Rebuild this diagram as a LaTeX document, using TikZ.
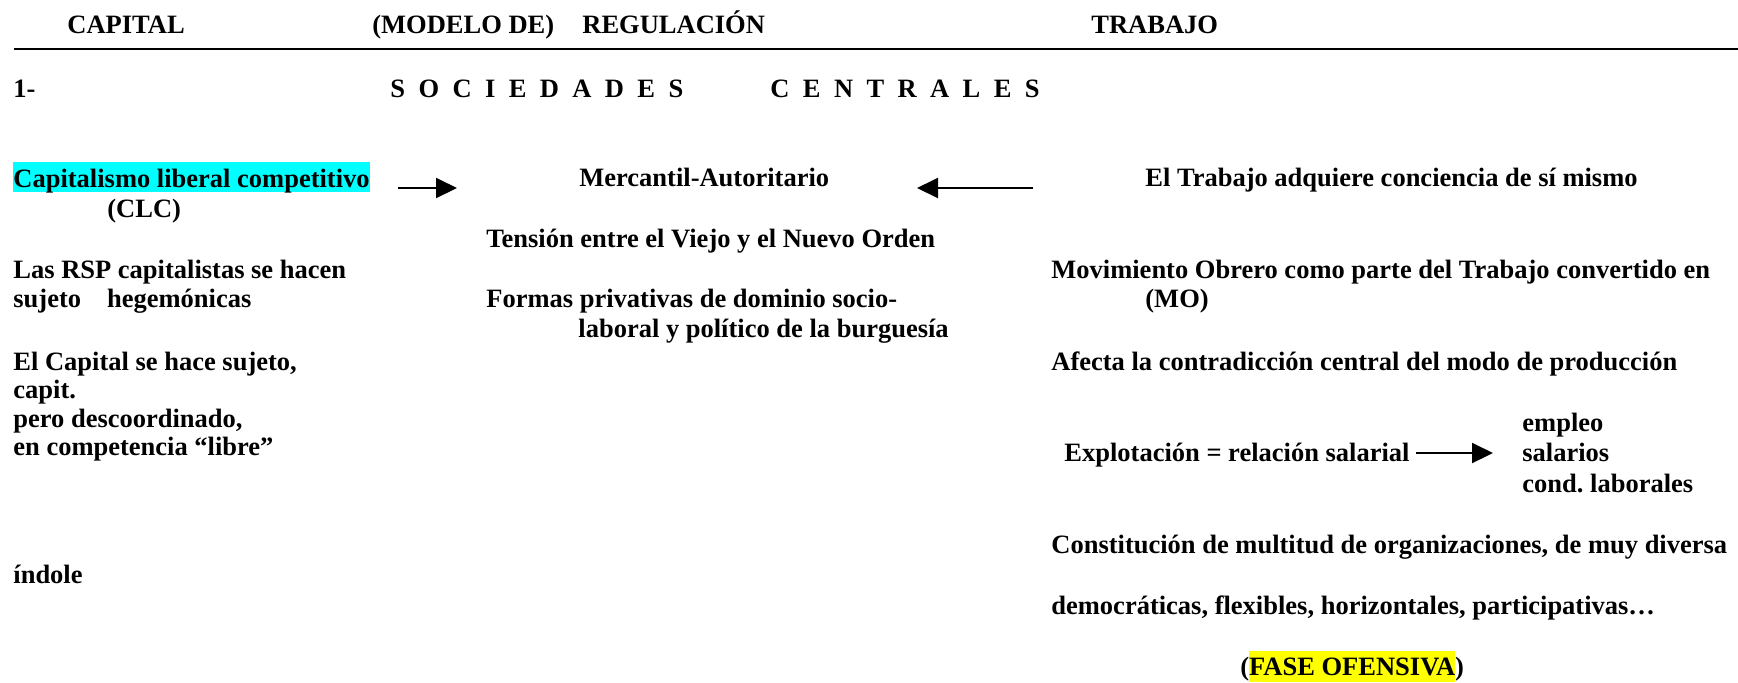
\documentclass[tikz,border=0pt]{standalone}
\usepackage{fontspec}
\setmainfont{Liberation Serif}
\usetikzlibrary{arrows.meta}
\definecolor{celeste}{RGB}{0,255,255}
\definecolor{amarillo}{RGB}{255,255,0}

\newcommand\hueco{\hspace{6.7pt}}
\newcommand\resalte[1]{{\setlength{\fboxsep}{0pt}\colorbox{amarillo}{\rule[-3.5pt]{0pt}{15.5pt}#1}}}

\begin{document}
\frenchspacing
\begin{tikzpicture}[x=0.5pt,y=-0.5pt,
    txt/.style={anchor=base west,inner sep=0pt,font=\fontsize{13.25pt}{16pt}\selectfont\bfseries},
    flecha/.style={line width=1pt,-{Triangle[length=10.5pt,width=10pt]}}]
    \useasboundingbox (0,0) rectangle (1738,682);

    % encabezado
    \node[txt] (capital) at (67,33) {CAPITAL};
    \node[txt] (modelo) at (372,33) {(MODELO DE)};
    \node[txt] (regulacion) at (582,33) {REGULACIÓN};
    \node[txt] (trabajo) at (1091,33) {TRABAJO};
    \draw[line width=1.1pt] (14,49) -- (1738,49);

    \node[txt] (uno) at (13,97) {1-};
    \node[txt] (sociedades) at (390,97) {S\hueco O\hueco C\hueco I\hueco E\hueco D\hueco A\hueco D\hueco E\hueco S};
    \node[txt] (centrales) at (770,97) {C\hueco E\hueco N\hueco T\hueco R\hueco A\hueco L\hueco E\hueco S};

    % capital
    \node[txt,fill=celeste,text height=12.5pt,text depth=2.5pt] (clc) at (13,187) {Capitalismo liberal competitivo}; %CLC
    \node[txt] (siglaclc) at (107,217) {(CLC)};
    \node[txt] (rsp) at (13,278) {Las RSP capitalistas se hacen};
    \node[txt] (sujeto) at (13,307) {sujeto\hspace{13pt}hegemónicas};
    \node[txt] (elcapital) at (13,370) {El Capital se hace sujeto,};
    \node[txt] (capit) at (13,398) {capit.};
    \node[txt] (pero) at (13,427) {pero descoordinado,};
    \node[txt] (libre) at (13,455) {en competencia “libre”};
    \node[txt] (indole) at (13,583) {índole};

    % regulacion
    \node[txt] (mercantil) at (579,186) {Mercantil-Autoritario};
    \node[txt] (tension) at (486,247) {Tensión entre el Viejo y el Nuevo Orden};
    \node[txt] (formas) at (486,307) {Formas privativas de dominio socio-};
    \node[txt] (laboral) at (578,337) {laboral y político de la burguesía};

    % trabajo
    \node[txt] (conciencia) at (1145,186) {El Trabajo adquiere conciencia de sí mismo};
    \node[txt] (movimiento) at (1051,278) {Movimiento Obrero como parte del Trabajo convertido en};
    \node[txt] (mo) at (1145,307) {(MO)};
    \node[txt] (afecta) at (1051,370) {Afecta la contradicción central del modo de producción};
    \node[txt] (explotacion) at (1064,461) {Explotación = relación salarial};
    \node[txt] (empleo) at (1522,431) {empleo};
    \node[txt] (salarios) at (1522,461) {salarios};
    \node[txt] (cond) at (1522,492) {cond. laborales};
    \node[txt] (constitucion) at (1051,553) {Constitución de multitud de organizaciones, de muy diversa};
    \node[txt] (democraticas) at (1051,614) {democráticas, flexibles, horizontales, participativas…};
    \node[txt] (fase) at (1240,675) {(\resalte{FASE OFENSIVA})}; %fase

    % flechas
    \coordinate (f1a) at (398,188);
    \coordinate (f1b) at (457,188);
    \coordinate (f2a) at (1033,188);
    \coordinate (f2b) at (917,188);
    \coordinate (f3a) at (1416,453);
    \coordinate (f3b) at (1493,453);
    \draw[flecha] (f1a) -- (f1b);
    \draw[flecha] (f2a) -- (f2b);
    \draw[flecha] (f3a) -- (f3b);
\end{tikzpicture}
\end{document}
